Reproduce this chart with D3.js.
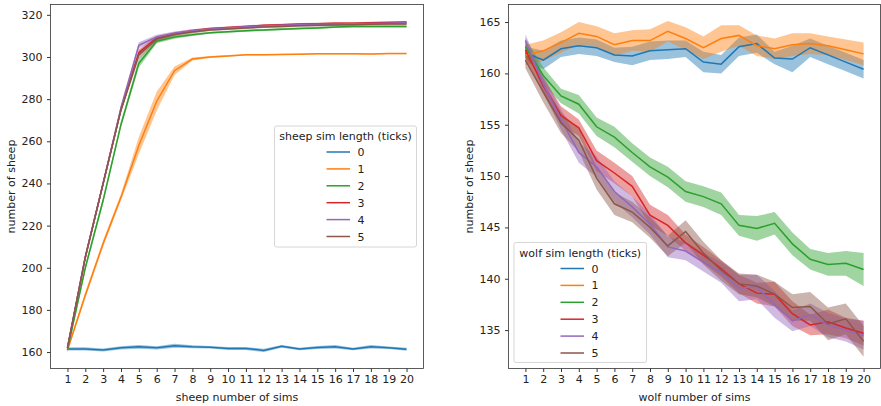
<!DOCTYPE html>
<html>
<head>
<meta charset="utf-8">
<script src="https://cdn.jsdelivr.net/npm/d3@7"></script>
<style>
  body { margin: 0; background: #fff; }
  svg { font-family: "DejaVu Sans", sans-serif; }
</style>
</head>
<body>
<script>
const sims = [1, 2, 3, 4, 5, 6, 7, 8, 9, 10, 11, 12, 13, 14, 15, 16, 17, 18, 19, 20];
const simLengths = ["0", "1", "2", "3", "4", "5"];
const colors = ["#1f77b4", "#ff7f0e", "#2ca02c", "#d62728", "#9467bd", "#8c564b"];

// left panel: sheep number of sims -> mean number of sheep
const sheepMeans = [
  [161.5, 161.5, 161.0, 162.0, 162.5, 162.0, 163.0, 162.5, 162.3, 161.7, 161.7, 160.8, 162.7, 161.5, 162.2, 162.5, 161.5, 162.5, 162.0, 161.3],
  [161.0, 187.0, 211.5, 233.5, 258.0, 279.0, 293.5, 299.0, 300.0, 300.5, 301.0, 301.0, 301.2, 301.3, 301.5, 301.5, 301.5, 301.4, 301.6, 301.6],
  [161.0, 200.0, 232.0, 268.0, 297.0, 307.5, 309.5, 310.5, 311.5, 312.0, 312.5, 312.8, 313.2, 313.5, 313.8, 314.2, 314.5, 314.5, 314.5, 314.5],
  [162.0, 205.0, 240.0, 275.0, 302.0, 309.0, 311.0, 312.5, 313.5, 314.0, 314.5, 315.0, 315.3, 315.6, 315.8, 316.0, 316.0, 316.2, 316.4, 316.6],
  [162.0, 205.0, 240.0, 276.0, 305.5, 309.5, 311.3, 312.5, 313.3, 313.8, 314.3, 314.7, 315.0, 315.3, 315.5, 315.7, 315.8, 315.9, 316.0, 316.2],
  [162.0, 205.0, 240.0, 275.0, 301.0, 308.5, 310.7, 311.8, 312.8, 313.3, 313.8, 314.2, 314.5, 314.8, 315.0, 315.2, 315.3, 315.5, 315.6, 315.7]
];
const sheepErr = [
  [0.8, 0.8, 0.7, 0.8, 0.9, 0.8, 0.9, 0.7, 0.6, 0.7, 0.7, 0.8, 0.7, 0.6, 0.7, 0.8, 0.6, 0.8, 0.6, 0.7],
  [1.0, 1.5, 1.5, 1.5, 4.0, 4.5, 2.0, 0.7, 0.5, 0.4, 0.3, 0.3, 0.3, 0.3, 0.3, 0.3, 0.3, 0.3, 0.3, 0.3],
  [1.0, 1.5, 1.5, 1.5, 2.0, 1.0, 0.8, 0.6, 0.5, 0.5, 0.5, 0.5, 0.5, 0.5, 0.5, 0.5, 0.5, 0.5, 0.5, 0.5],
  [1.0, 1.5, 1.5, 1.5, 1.5, 1.0, 0.8, 0.6, 0.5, 0.5, 0.5, 0.5, 0.5, 0.5, 0.5, 0.5, 0.5, 0.5, 0.5, 0.5],
  [1.0, 1.5, 1.5, 1.5, 1.5, 1.0, 0.8, 0.6, 0.5, 0.5, 0.5, 0.5, 0.5, 0.5, 0.5, 0.5, 0.5, 0.5, 0.5, 0.5],
  [1.0, 1.5, 1.5, 1.5, 2.0, 1.0, 0.8, 0.6, 0.5, 0.5, 0.5, 0.5, 0.5, 0.5, 0.5, 0.5, 0.5, 0.5, 0.5, 0.5]
];
const sheepTicks = [160, 180, 200, 220, 240, 260, 280, 300, 320];

// right panel: wolf number of sims -> mean number of sheep
const wolfMeans = [
  [162.0, 161.3, 162.4, 162.7, 162.5, 161.8, 161.7, 162.2, 162.3, 162.4, 161.1, 160.9, 162.6, 162.9, 161.5, 161.4, 162.5, 161.8, 161.1, 160.4],
  [161.8, 162.2, 163.0, 163.9, 163.6, 162.8, 163.2, 163.2, 164.1, 163.4, 162.5, 163.4, 163.7, 162.7, 162.4, 162.8, 162.9, 162.7, 162.3, 161.9],
  [162.6, 159.8, 157.8, 157.0, 154.8, 153.8, 152.3, 150.9, 149.9, 148.5, 148.0, 147.3, 145.2, 144.9, 145.4, 143.4, 141.9, 141.4, 141.5, 140.9],
  [162.3, 158.8, 155.9, 154.7, 151.5, 150.3, 149.0, 146.2, 145.2, 143.5, 142.3, 141.0, 139.5, 138.6, 138.5, 136.6, 135.5, 135.8, 135.2, 134.7],
  [163.2, 159.0, 155.5, 152.3, 150.9, 148.5, 147.0, 145.3, 143.1, 142.7, 141.6, 140.6, 139.1, 139.2, 137.5, 135.9, 136.5, 135.5, 135.0, 134.5],
  [161.3, 158.2, 155.2, 153.5, 149.8, 147.3, 146.5, 145.0, 143.2, 144.6, 142.5, 140.8, 139.5, 139.3, 138.5, 137.2, 137.3, 135.6, 136.1, 133.9]
];
const wolfErr = [
  [0.6, 0.9, 0.8, 0.8, 0.8, 0.7, 0.9, 0.9, 0.9, 0.8, 1.0, 0.9, 0.9, 0.9, 0.6, 1.3, 0.9, 0.9, 0.9, 0.9],
  [1.0, 1.0, 1.0, 1.1, 1.0, 1.1, 1.0, 1.1, 1.0, 1.1, 1.1, 1.3, 1.0, 1.0, 1.0, 1.1, 1.0, 0.9, 1.0, 1.1],
  [0.8, 0.8, 0.7, 0.9, 0.9, 1.0, 0.9, 0.9, 1.0, 1.0, 1.0, 1.1, 1.0, 1.2, 1.1, 1.1, 1.0, 1.1, 1.2, 1.6],
  [0.7, 0.8, 0.9, 0.8, 1.0, 1.0, 1.0, 1.0, 1.0, 0.8, 0.8, 0.8, 0.9, 1.0, 1.2, 1.2, 1.0, 1.2, 1.0, 1.2],
  [0.6, 0.8, 1.0, 1.0, 1.0, 1.0, 1.0, 1.0, 1.0, 0.9, 0.9, 1.0, 1.3, 1.2, 1.3, 1.0, 1.1, 1.2, 1.1, 1.4],
  [0.8, 1.0, 1.0, 1.1, 1.1, 1.1, 1.0, 1.0, 1.0, 1.1, 1.1, 1.0, 1.0, 1.1, 1.2, 1.3, 1.4, 1.6, 1.5, 1.5]
];
const wolfTicks = [135, 140, 145, 150, 155, 160, 165];

const width = 881, height = 406;
const svg = d3.select("body").append("svg")
  .attr("width", width).attr("height", height)
  .style("font-size", "11px");

function panel({ x0, x1, y0, y1, yDomain, yTicks, means, errs, xLabel, legendTitle, legend }) {
  const g = svg.append("g");
  const x = d3.scaleLinear().domain([0.05, 20.95]).range([x0, x1]);
  const y = d3.scaleLinear().domain(yDomain).range([y1, y0]);

  // bands first, then lines
  means.forEach((m, s) => {
    const rows = sims.map((d, i) => ({ x: d, y: m[i], e: errs[s][i] }));
    g.append("path")
      .datum(rows)
      .attr("fill", colors[s])
      .attr("fill-opacity", 0.45)
      .attr("d", d3.area().x(d => x(d.x)).y0(d => y(d.y - d.e)).y1(d => y(d.y + d.e)));
  });
  means.forEach((m, s) => {
    const rows = sims.map((d, i) => ({ x: d, y: m[i] }));
    g.append("path")
      .datum(rows)
      .attr("fill", "none")
      .attr("stroke", colors[s])
      .attr("stroke-width", 1.5)
      .attr("d", d3.line().x(d => x(d.x)).y(d => y(d.y)));
  });

  // axes
  const xAxis = g.append("g").attr("transform", `translate(0,${y1})`)
    .call(d3.axisBottom(x).tickValues(sims).tickSize(3.5).tickPadding(3.5).tickFormat(d3.format("d")));
  const yAxis = g.append("g").attr("transform", `translate(${x0},0)`)
    .call(d3.axisLeft(y).tickValues(yTicks).tickSize(3.5).tickPadding(4.5));
  [xAxis, yAxis].forEach(a => {
    a.select(".domain").remove();
    a.selectAll("line").attr("stroke", "#000").attr("stroke-width", 0.8);
    a.selectAll("text").attr("fill", "#222").style("font-size", "11px").style("font-family", "DejaVu Sans");
  });

  g.append("rect")
    .attr("x", x0).attr("y", y0).attr("width", x1 - x0).attr("height", y1 - y0)
    .attr("fill", "none").attr("stroke", "#333").attr("stroke-width", 0.8);

  g.append("text")
    .attr("x", (x0 + x1) / 2).attr("y", y1 + 32)
    .attr("text-anchor", "middle").attr("fill", "#222")
    .text(xLabel);
  g.append("text")
    .attr("transform", `translate(${x0 - 35.5},${(y0 + y1) / 2}) rotate(-90)`)
    .attr("text-anchor", "middle").attr("fill", "#222")
    .text("number of sheep");

  // legend
  const lg = g.append("g").attr("transform", `translate(${legend.x},${legend.y})`);
  lg.append("rect")
    .attr("width", legend.w).attr("height", legend.h).attr("rx", 2)
    .attr("fill", "#fff").attr("fill-opacity", 0.8)
    .attr("stroke", "#ccc").attr("stroke-width", 0.8);
  lg.append("text")
    .attr("x", legend.w / 2).attr("y", 14)
    .attr("text-anchor", "middle").attr("fill", "#222")
    .text(legendTitle);
  simLengths.forEach((lab, i) => {
    const yy = 26 + i * 16.9;
    lg.append("line")
      .attr("x1", legend.lx).attr("x2", legend.lx + 23.5)
      .attr("y1", yy).attr("y2", yy)
      .attr("stroke", colors[i]).attr("stroke-width", 1.5);
    lg.append("text")
      .attr("x", legend.lx + 31).attr("y", yy + 4)
      .attr("fill", "#222").text(lab);
  });
}

panel({
  x0: 50.5, x1: 423.5, y0: 4.5, y1: 368.5,
  yDomain: [152.2, 324.9], yTicks: sheepTicks,
  means: sheepMeans, errs: sheepErr,
  xLabel: "sheep number of sims", legendTitle: "sheep sim length (ticks)",
  legend: { x: 274.5, y: 126, w: 142, h: 121, lx: 52 }
});

panel({
  x0: 508.5, x1: 880.5, y0: 4.5, y1: 368.5,
  yDomain: [131.26, 166.71], yTicks: wolfTicks,
  means: wolfMeans, errs: wolfErr,
  xLabel: "wolf number of sims", legendTitle: "wolf sim length (ticks)",
  legend: { x: 514, y: 242.5, w: 132.5, h: 120, lx: 46.5 }
});
</script>
</body>
</html>
